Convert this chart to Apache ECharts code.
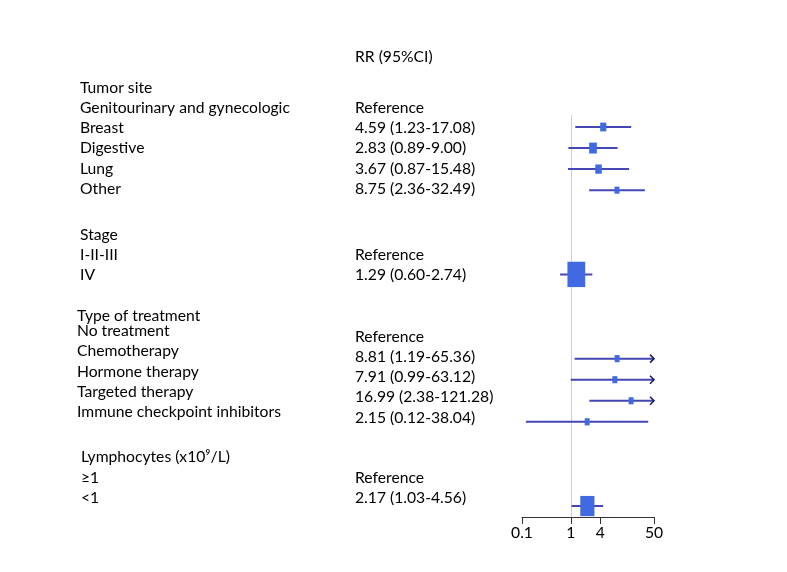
<!DOCTYPE html>
<html><head><meta charset="utf-8">
<script src="https://cdn.jsdelivr.net/npm/echarts@6/dist/echarts.min.js"></script>
<style>html,body{margin:0;padding:0;background:#fff}#c{width:787px;height:572px}</style>
</head><body><div id="c"></div>
<script>
// ---------- data ----------
const headerText = "RR (95%CI)";
const leftLabels = ["Tumor site","Genitourinary and gynecologic","Breast","Digestive","Lung","Other",
  "Stage","I-II-III","IV",
  "Type of treatment","No treatment","Chemotherapy","Hormone therapy","Targeted therapy","Immune checkpoint inhibitors",
  "Lymphocytes (x10\u2079/L)","\u22651","<1"];
const rrLabels = ["Reference","4.59 (1.23-17.08)","2.83 (0.89-9.00)","3.67 (0.87-15.48)","8.75 (2.36-32.49)",
  "Reference","1.29 (0.60-2.74)",
  "Reference","8.81 (1.19-65.36)","7.91 (0.99-63.12)","16.99 (2.38-121.28)","2.15 (0.12-38.04)",
  "Reference","2.17 (1.03-4.56)"];
const estCategories = ["Breast","Digestive","Lung","Other","IV","Chemotherapy","Hormone therapy","Targeted therapy","Immune checkpoint inhibitors","<1"];
const rr     = [4.59, 2.83, 3.67, 8.75, 1.29, 8.81, 7.91, 16.99, 2.15, 2.17];
const lower  = [1.23, 0.89, 0.87, 2.36, 0.60, 1.19, 0.99, 2.38, 0.12, 1.03];
const upper  = [17.08, 9.00, 15.48, 32.49, 2.74, 65.36, 63.12, 121.28, 38.04, 4.56];
const weights= [5.4, 8.4, 6.0, 3.5, 45, 3.5, 3.5, 3.5, 3.5, 28.6];
const tickValues = [0.1, 1, 4, 50];

// ---------- layout (positions, not data) ----------
const markerRow = [0,1,2,3,7,11,12,13,14,18];          // row slots on the plot grid
const leftY  = [88,108,128,148,169,189,235,255,275,316,331,351,372,392,412,457,478,498];
const leftX  = [80,80,80,80,80,80,80,80,80,77,77,77,77,77,77,81,81,81];
const rrY    = [108,128,148,169,189,255,275,337,357,377,397,418,478,498];
const rrX = 355, headerY = 57;
const AXMIN = 0.1, AXMAX = 50;

const FONT_FAMILY = 'Lato, "Liberation Sans", sans-serif';
// fit font size so the longest label has the reference width
const cv = document.createElement('canvas').getContext('2d');
cv.font = '100px ' + FONT_FAMILY;
let fs = 100 * 210 / cv.measureText("Genitourinary and gynecologic").width;
fs = Math.max(13, Math.min(16.5, fs));
const FONT = fs.toFixed(2) + 'px ' + FONT_FAMILY;

const chart = echarts.init(document.getElementById('c'), null, {renderer: 'canvas'});

const seriesData = estCategories.map((c, i) => ({
  name: c, value: [markerRow[i], rr[i], lower[i], upper[i], weights[i]]
}));

const texts = [];
texts.push({type:'text', x: rrX, y: headerY, style:{text: headerText, font: FONT, fill:'#000', textAlign:'left', textVerticalAlign:'middle'}});
leftLabels.forEach((t, i) => texts.push({type:'text', x: leftX[i], y: leftY[i],
  style:{text: t, font: FONT, fill:'#000', textAlign:'left', textVerticalAlign:'middle'}}));
rrLabels.forEach((t, i) => texts.push({type:'text', x: rrX, y: rrY[i],
  style:{text: t, font: FONT, fill:'#000', textAlign:'left', textVerticalAlign:'middle'}}));

chart.setOption({
  backgroundColor: '#fff',
  animation: false,
  grid: {left: 522, right: 133, top: 115, bottom: 55, containLabel: false},
  xAxis: {
    type: 'log', logBase: 10, min: AXMIN, max: AXMAX, position: 'bottom',
    axisLine: {show: true, onZero: false, lineStyle: {color: '#333', width: 1}},
    axisTick: {show: true, length: 7, lineStyle: {color: '#333'}, customValues: tickValues},
    axisLabel: {show: true, customValues: tickValues, color: '#000', fontFamily: FONT_FAMILY, fontSize: fs, margin: 8,
      formatter: v => String(+(+v).toPrecision(3))},
    splitLine: {show: false}, minorTick: {show: false}
  },
  yAxis: {type: 'value', inverse: true, min: -0.57, max: 18.52, show: false},
  graphic: texts,
  series: [{
    type: 'custom',
    data: seriesData,
    encode: {x: [1, 2, 3], y: 0},
    clip: false,
    renderItem: function (params, api) {
      const row = api.value(0), est = api.value(1), lo = api.value(2), hi = api.value(3), w = api.value(4);
      const pLo = api.coord([Math.max(lo, AXMIN), row]);
      const pHi = api.coord([Math.min(hi, AXMAX), row]);
      const pE = api.coord([est, row]);
      const area = w * 10;
      const bh = Math.sqrt(area / 0.7), bw = bh * 0.7;
      const children = [{
        type: 'line', shape: {x1: pLo[0], y1: pLo[1], x2: pHi[0], y2: pHi[1]},
        style: {stroke: '#4646b4', lineWidth: 2}
      }];
      if (hi > AXMAX) {
        children.push({type: 'polyline', shape: {points: [[pHi[0]-4, pHi[1]-4], [pHi[0], pHi[1]], [pHi[0]-4, pHi[1]+4]]},
          style: {stroke: '#1f1f66', lineWidth: 1.6, fill: null}});
      }
      children.push({type: 'rect', shape: {x: pE[0] - bw/2, y: pE[1] - bh/2, width: bw, height: bh},
        style: {fill: '#4169e1', stroke: null}});
      return {type: 'group', children: children};
    },
    markLine: {
      silent: true, symbol: 'none', label: {show: false},
      lineStyle: {color: '#cfcfcf', width: 1, type: 'solid'},
      data: [{xAxis: 1}], z: 1
    },
    z: 3
  }]
});
</script>
</body></html>
